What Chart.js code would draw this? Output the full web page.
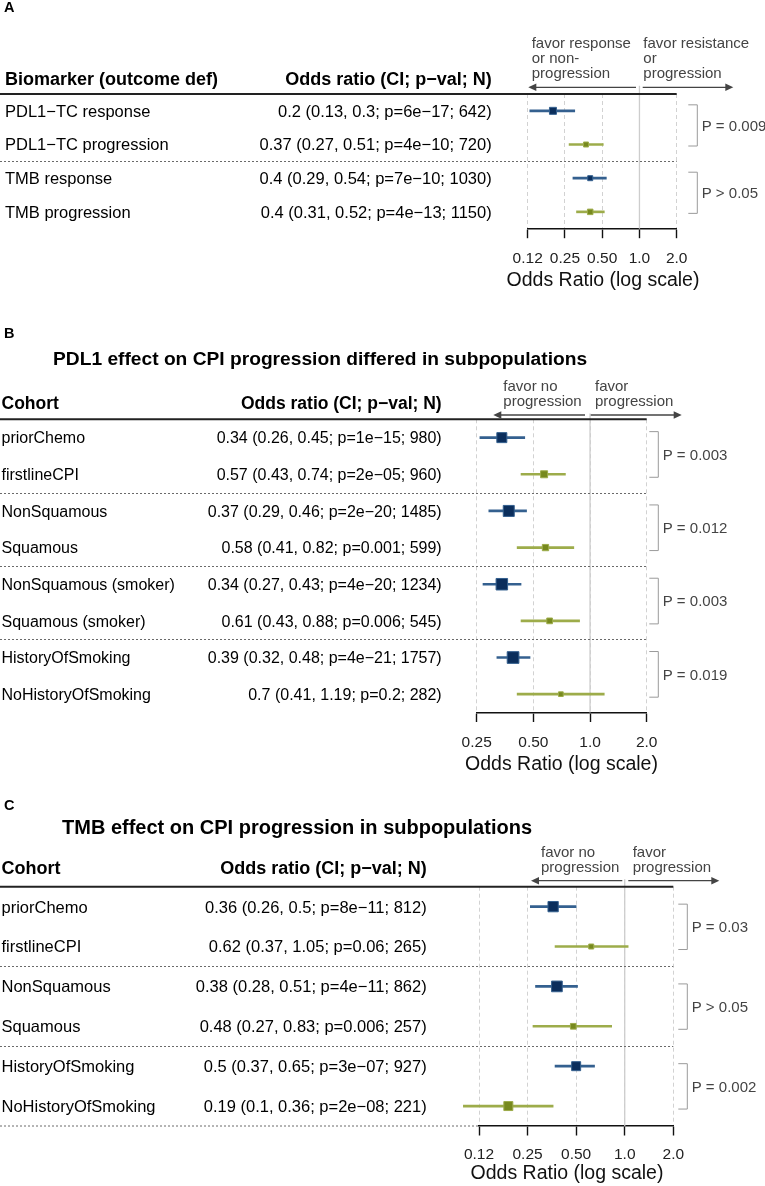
<!DOCTYPE html>
<html><head><meta charset="utf-8">
<script src="https://cdn.jsdelivr.net/npm/chart.js@4/dist/chart.umd.min.js"></script>
<style>
html,body{margin:0;padding:0;background:#fff;}
#wrap{position:relative;width:765px;height:1186px;overflow:hidden;background:#fff;}
canvas{position:absolute;left:0;}
</style></head><body>
<div id="wrap">
<canvas id="cA" width="765" height="300" style="top:0px"></canvas>
<canvas id="cB" width="765" height="480" style="top:300px"></canvas>
<canvas id="cC" width="765" height="406" style="top:780px"></canvas>
</div>
<script>
// ================= DATA =================
// Panel A
const aLabels = ['PDL1−TC response', 'PDL1−TC progression', 'TMB response', 'TMB progression'];
const aOR     = [0.2, 0.37, 0.4, 0.4];
const aLow    = [0.13, 0.27, 0.29, 0.31];
const aHigh   = [0.3, 0.51, 0.54, 0.52];
const aPval   = ['6e−17', '4e−10', '7e−10', '4e−13'];
const aN      = [642, 720, 1030, 1150];
const aGroupP = ['P = 0.009', 'P > 0.05'];
const aTickValues = [0.125, 0.25, 0.5, 1, 2];
const aTickLabels = ['0.12', '0.25', '0.50', '1.0', '2.0'];

// Panel B
const bLabels = ['priorChemo', 'firstlineCPI', 'NonSquamous', 'Squamous', 'NonSquamous (smoker)', 'Squamous (smoker)', 'HistoryOfSmoking', 'NoHistoryOfSmoking'];
const bOR     = [0.34, 0.57, 0.37, 0.58, 0.34, 0.61, 0.39, 0.7];
const bLow    = [0.26, 0.43, 0.29, 0.41, 0.27, 0.43, 0.32, 0.41];
const bHigh   = [0.45, 0.74, 0.46, 0.82, 0.43, 0.88, 0.48, 1.19];
const bPval   = ['1e−15', '2e−05', '2e−20', '0.001', '4e−20', '0.006', '4e−21', '0.2'];
const bN      = [980, 960, 1485, 599, 1234, 545, 1757, 282];
const bGroupP = ['P = 0.003', 'P = 0.012', 'P = 0.003', 'P = 0.019'];
const bTickValues = [0.25, 0.5, 1, 2];
const bTickLabels = ['0.25', '0.50', '1.0', '2.0'];

// Panel C
const cLabels = ['priorChemo', 'firstlineCPI', 'NonSquamous', 'Squamous', 'HistoryOfSmoking', 'NoHistoryOfSmoking'];
const cOR     = [0.36, 0.62, 0.38, 0.48, 0.5, 0.19];
const cLow    = [0.26, 0.37, 0.28, 0.27, 0.37, 0.1];
const cHigh   = [0.5, 1.05, 0.51, 0.83, 0.65, 0.36];
const cPval   = ['8e−11', '0.06', '4e−11', '0.006', '3e−07', '2e−08'];
const cN      = [812, 265, 862, 257, 927, 221];
const cGroupP = ['P = 0.03', 'P > 0.05', 'P = 0.002'];
const cTickValues = [0.125, 0.25, 0.5, 1, 2];
const cTickLabels = ['0.12', '0.25', '0.50', '1.0', '2.0'];

// ================= STYLE / LAYOUT =================
const FONT = '"Liberation Sans", Arial, Helvetica, sans-serif';
const W = 765;
const BLUE_BOX = '#0b2e5c', BLUE_LINE = '#34608f';
const GREEN_BOX = '#77891e', GREEN_LINE = '#9dac4a';
const TEXT_GRAY = '#444';

const panels = [
  {
    id: 'cA', H: 300, letter: 'A', title: null,
    labels: aLabels, or: aOR, lo: aLow, hi: aHigh, pval: aPval, n: aN, groupP: aGroupP,
    tickValues: aTickValues, tickLabels: aTickLabels,
    header: ['Biomarker (outcome def)', 'Odds ratio (CI; p−val; N)'],
    favorL: ['favor response', 'or non-', 'progression'],
    favorR: ['favor resistance', 'or', 'progression'],
    L: {
      plotL: 527.7, plotR: 676.7, headerY: 94, axisY: 228.7,
      letterY: 7, headY: 78.7, headSize: 18, rowSize: 16.5, rowX: 5, valR: 491.7,
      favLX: 531.7, favRX: 643.3, favY: [43.3, 58.3, 72.7],
      arrowY: 87.3, arrowL: [636, 528.3], arrowR: [642.7, 733.3],
      brX0: 688.3, brX1: 697.3, brTop: -6, brBot: 1.5, pX: 701.7,
      tickPad: 11.3, axTitleX: 603, axTitleY: 279.3, bottomSep: false,
      box: [8, 6, 6, 6.5]
    }
  },
  {
    id: 'cB', H: 480, letter: 'B', title: 'PDL1 effect on CPI progression differed in subpopulations',
    labels: bLabels, or: bOR, lo: bLow, hi: bHigh, pval: bPval, n: bN, groupP: bGroupP,
    tickValues: bTickValues, tickLabels: bTickLabels,
    header: ['Cohort', 'Odds ratio (CI; p−val; N)'],
    favorL: ['favor no', 'progression'],
    favorR: ['favor', 'progression'],
    L: {
      plotL: 476.7, plotR: 646.7, headerY: 119.3, axisY: 412.5,
      letterY: 32.7, titleX: 53, titleY: 57.7, titleSize: 19.2,
      headY: 102.3, headSize: 17.5, rowSize: 16, rowX: 1.5, valR: 441.7,
      favLX: 503.3, favRX: 595, favY: [85.7, 101],
      arrowY: 115, arrowL: [585, 493.3], arrowR: [590.7, 681.7],
      brX0: 649.3, brX1: 658.3, brTop: -6, brBot: 3, pX: 662.7,
      tickPad: 11.5, axTitleX: 561.5, axTitleY: 462.7, bottomSep: false,
      box: [11, 8, 12, 7.3, 12.5, 6.7, 12.7, 5.7]
    }
  },
  {
    id: 'cC', H: 406, letter: 'C', title: 'TMB effect on CPI progression in subpopulations',
    labels: cLabels, or: cOR, lo: cLow, hi: cHigh, pval: cPval, n: cN, groupP: cGroupP,
    tickValues: cTickValues, tickLabels: cTickLabels,
    header: ['Cohort', 'Odds ratio (CI; p−val; N)'],
    favorL: ['favor no', 'progression'],
    favorR: ['favor', 'progression'],
    L: {
      plotL: 479, plotR: 673.3, headerY: 106.7, axisY: 346,
      letterY: 25, titleX: 62, titleY: 46.5, titleSize: 20,
      headY: 87.3, headSize: 18, rowSize: 16.5, rowX: 1.5, valR: 426.7,
      favLX: 541, favRX: 632.7, favY: [72.3, 86.7],
      arrowY: 100.7, arrowL: [622.3, 531], arrowR: [628.3, 719.3],
      brX0: 678.3, brX1: 687.3, brTop: -2.5, brBot: 3, pX: 691.7,
      tickPad: 9.7, axTitleX: 567, axTitleY: 392, bottomSep: true,
      box: [11.3, 6, 11.7, 6.7, 10, 10]
    }
  }
];

// ================= HELPERS =================
function txt(ctx, s, x, yc, size, o) {
  o = o || {};
  ctx.save();
  ctx.font = (o.bold ? 'bold ' : '') + size + 'px ' + FONT;
  ctx.fillStyle = o.color || '#000';
  ctx.textAlign = o.align || 'left';
  ctx.textBaseline = 'alphabetic';
  ctx.fillText(s, x, yc + (o.off !== undefined ? o.off : 0.358 * size));
  ctx.restore();
}
function seg(ctx, x0, y0, x1, y1, color, w, dash) {
  ctx.save();
  ctx.strokeStyle = color; ctx.lineWidth = w;
  ctx.setLineDash(dash || []);
  ctx.beginPath(); ctx.moveTo(x0, y0); ctx.lineTo(x1, y1); ctx.stroke();
  ctx.restore();
}
function arrow(ctx, x0, x1, y, color) {
  const dir = Math.sign(x1 - x0);
  seg(ctx, x0, y, x1 - dir * 4, y, color, 1.3);
  ctx.save();
  ctx.fillStyle = color;
  ctx.beginPath();
  ctx.moveTo(x1, y);
  ctx.lineTo(x1 - dir * 8, y - 3.8);
  ctx.lineTo(x1 - dir * 8, y + 3.8);
  ctx.closePath(); ctx.fill();
  ctx.restore();
}
function rowText(or, lo, hi, p, n) {
  return or + ' (' + lo + ', ' + hi + '; p=' + p + '; ' + n + ')';
}

function decorPlugin(P) {
  const L = P.L;
  return {
    id: 'decor_' + P.id,
    beforeDatasetsDraw(chart) {
      const ctx = chart.ctx, xs = chart.scales.x;
      const x1 = xs.getPixelForValue(1);
      seg(ctx, x1, L.arrowY - 1.5, x1, chart.chartArea.bottom, '#cdcdcd', 1.3);
    },
    afterDraw(chart) {
      const ctx = chart.ctx, ys = chart.scales.y;
      const n = P.labels.length;
      const py = i => ys.getPixelForValue(i);
      // letter and title
      txt(ctx, P.letter, 4, L.letterY, 14.5, {bold: true});
      if (P.title) txt(ctx, P.title, L.titleX, L.titleY, L.titleSize, {bold: true});
      // header
      txt(ctx, P.header[0], L.rowX, L.headY, L.headSize, {bold: true});
      txt(ctx, P.header[1], L.valR, L.headY, L.headSize, {bold: true, align: 'right'});
      seg(ctx, 0, L.headerY, L.plotR, L.headerY, '#222', 2);
      // rows
      for (let i = 0; i < n; i++) {
        const y = py(i);
        txt(ctx, P.labels[i], L.rowX, y, L.rowSize);
        txt(ctx, rowText(P.or[i], P.lo[i], P.hi[i], P.pval[i], P.n[i]), L.valR, y, L.rowSize, {align: 'right'});
      }
      // group separators
      for (let i = 1; i < n - 1; i += 2) {
        const y = Math.round((py(i) + py(i + 1)) / 2) + 0.5;
        seg(ctx, 0, y, L.plotR, y, '#6a6a6a', 1, [2, 2]);
      }
      if (L.bottomSep) {
        const y = chart.chartArea.bottom;
        seg(ctx, 0, y, L.plotL, y, '#6a6a6a', 1, [2, 2]);
      }
      // favor texts and arrows
      P.favorL.forEach((s, k) => txt(ctx, s, L.favLX, L.favY[k], 15, {color: TEXT_GRAY, off: 4.8}));
      P.favorR.forEach((s, k) => txt(ctx, s, L.favRX, L.favY[k], 15, {color: TEXT_GRAY, off: 4.8}));
      arrow(ctx, L.arrowL[0], L.arrowL[1], L.arrowY, '#444');
      arrow(ctx, L.arrowR[0], L.arrowR[1], L.arrowY, '#444');
      // brackets with p-values
      P.groupP.forEach((s, g) => {
        const top = py(2 * g) + L.brTop, bot = py(2 * g + 1) + L.brBot;
        ctx.save();
        ctx.strokeStyle = '#9a9a9a'; ctx.lineWidth = 1;
        ctx.beginPath();
        ctx.moveTo(L.brX0, top); ctx.lineTo(L.brX1, top); ctx.lineTo(L.brX1, bot); ctx.lineTo(L.brX0, bot);
        ctx.stroke(); ctx.restore();
        txt(ctx, s, L.pX, (top + bot) / 2, 15, {color: TEXT_GRAY});
      });
      // axis title
      txt(ctx, 'Odds Ratio (log scale)', L.axTitleX, L.axTitleY, 19.5, {align: 'center', color: '#111'});
    }
  };
}

function makeChart(P) {
  const L = P.L;
  const canvas = document.getElementById(P.id);
  const isGreen = i => i % 2 === 1;
  return new Chart(canvas, {
    type: 'bar',
    data: {
      labels: P.labels,
      datasets: [
        {
          type: 'scatter',
          data: P.or.map((v, i) => ({x: v, y: P.labels[i]})),
          pointStyle: 'rect',
          pointRadius: L.box.map(s => (s - 1) / Math.SQRT2),
          pointHoverRadius: L.box.map(s => (s - 1) / Math.SQRT2),
          backgroundColor: P.or.map((_, i) => isGreen(i) ? GREEN_BOX : BLUE_BOX),
          borderColor: P.or.map((_, i) => isGreen(i) ? GREEN_LINE : BLUE_LINE),
          borderWidth: 1,
          order: 0,
          clip: false
        },
        {
          type: 'bar',
          indexAxis: 'y',
          data: P.lo.map((v, i) => [v, P.hi[i]]),
          backgroundColor: P.or.map((_, i) => isGreen(i) ? GREEN_LINE : BLUE_LINE),
          borderWidth: 0,
          barThickness: 2,
          order: 1,
          clip: false
        }
      ]
    },
    options: {
      responsive: false,
      animation: false,
      devicePixelRatio: 1,
      events: [],
      plugins: {legend: {display: false}, tooltip: {enabled: false}},
      layout: {padding: {left: L.plotL, right: W - L.plotR, top: L.headerY, bottom: 0}},
      scales: {
        x: {
          type: 'logarithmic',
          position: 'bottom',
          offset: false,
          min: P.tickValues[0],
          max: P.tickValues[P.tickValues.length - 1],
          afterBuildTicks: s => { s.ticks = P.tickValues.map(v => ({value: v})); },
          afterFit: s => { s.height = P.H - L.axisY; },
          ticks: {
            callback: (v, i) => P.tickLabels[i],
            font: {family: FONT, size: 15.5},
            color: '#222',
            padding: L.tickPad,
            maxRotation: 0,
            autoSkip: false
          },
          grid: {
            offset: false,
            color: '#d2d2d2', lineWidth: 1,
            drawTicks: true, tickLength: 9.5, tickColor: '#111', tickWidth: 1.4
          },
          border: {display: true, color: '#111', width: 1.6, dash: [4, 3]}
        },
        y: {
          type: 'category',
          offset: true,
          display: false,
          grid: {display: false}
        }
      }
    },
    plugins: [decorPlugin(P)]
  });
}

panels.forEach(makeChart);
</script>
</body></html>
